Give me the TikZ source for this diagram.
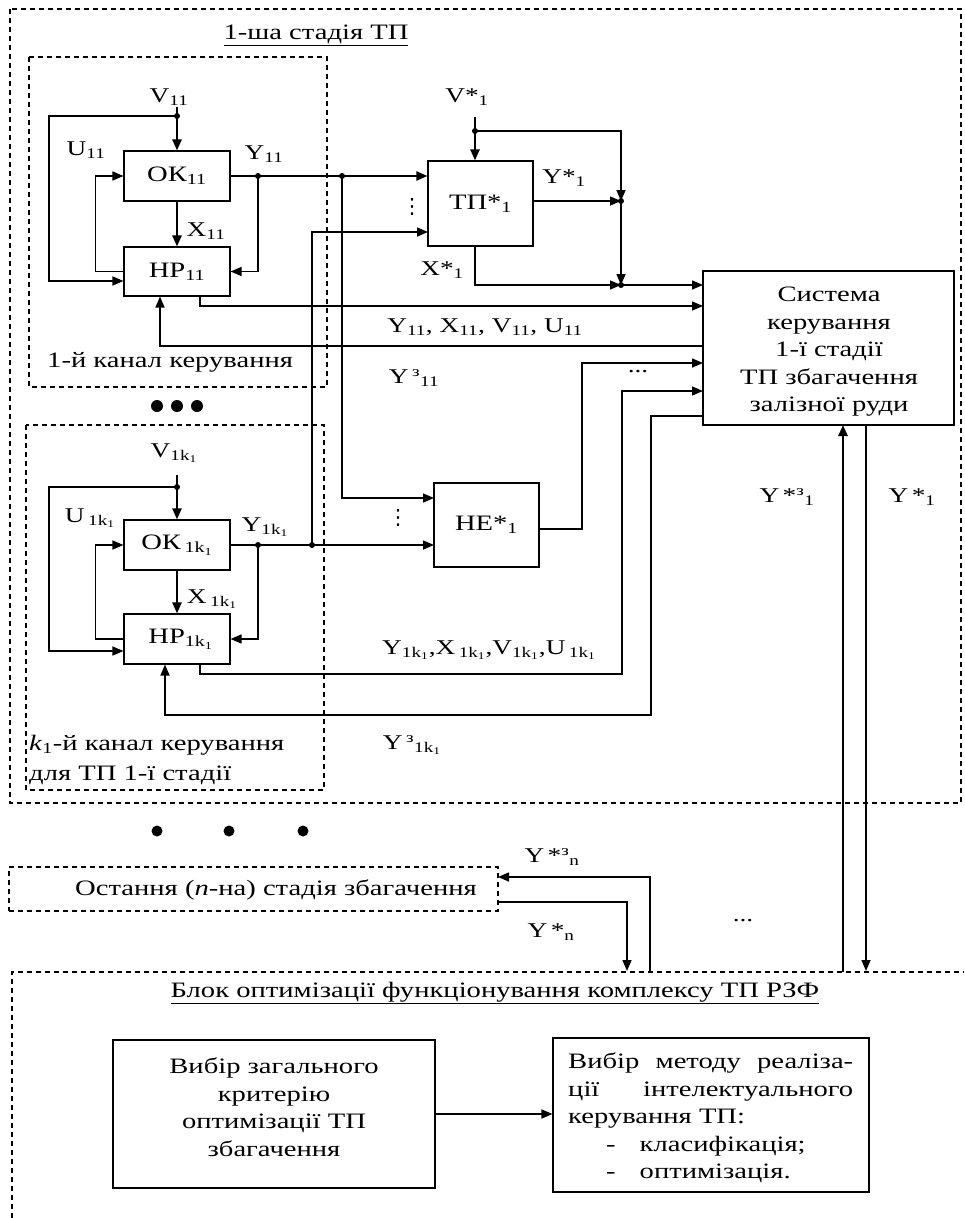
\documentclass[tikz,border=0pt]{standalone}
\usepackage{fontspec}
\setmainfont{Liberation Serif}[FakeStretch=1.3]
\newfontfamily\djv{DejaVu Sans}
\usetikzlibrary{arrows.meta,calc}
\newcommand{\sbt}[1]{\textsubscript{#1}}
\newcommand{\spt}[1]{\textsuperscript{#1}}
\newcommand{\kk}{\textsubscript{1k\textsubscript{1}}}
\begin{document}
\begin{tikzpicture}[x=1pt,y=-1pt,font=\fontsize{22}{27.5}\selectfont,
  ln/.style={line width=1.5pt},
  bold/.style={line width=2.4pt},
  arr/.style={-{Triangle[length=11pt,width=9pt]}},
  blk/.style={draw,line width=1.1pt,inner sep=0pt,align=center},
  dsh/.style={line width=1.1pt,dash pattern=on 5pt off 4pt},
  lbl/.style={inner sep=0pt,font=\fontsize{21}{24}\selectfont},
  vd/.style={inner sep=0pt,font=\djv\fontsize{21}{21}\selectfont}]
\useasboundingbox (0,0) rectangle (964,1218);

% dashed frames
\draw[dsh] (10,9) rectangle (961,803);
\draw[dsh] (29,57) rectangle (327,387);
\draw[dsh] (26,425) rectangle (324,790);
\draw[dsh] (12,1218) -- (12,972) -- (964,972);
\node[draw,dsh,minimum width=489pt,minimum height=44pt,inner sep=0pt] (last) at (253.5,889) {};
\node[inner sep=0pt] (lastt) at (276,890) {Остання (\textit{n}-на) стадія збагачення};

% titles
\node[inner sep=0pt] (t1) at (316,35) {\underline{1-ша стадія ТП}};
\node[inner sep=0pt] (t2) at (495,993) {\underline{Блок оптимізації функціонування комплексу ТП РЗФ}};
\node[inner sep=0pt,anchor=west] (c1) at (47,362) {1-й канал керування};
\node[inner sep=0pt,anchor=west,align=left,font=\fontsize{22}{30}\selectfont] (c2) at (29,760) {\textit{k}\sbt{1}-й канал керування\\для ТП 1-ї стадії};

% blocks
\node[blk,minimum width=106pt,minimum height=50pt] (ok1) at (177,176) {ОК\sbt{11}};
\node[blk,minimum width=106pt,minimum height=49pt] (hp1) at (177,271.5) {НР\sbt{11}};
\node[blk,minimum width=106pt,minimum height=50pt] (ok2) at (177,545) {ОК\,\kk};
\node[blk,minimum width=106pt,minimum height=50pt] (hp2) at (177,639) {\,\,НР\kk};
\node[blk,minimum width=105pt,minimum height=85pt] (tp) at (480.5,203.5) {ТП*\sbt{1}};
\node[blk,minimum width=105pt,minimum height=84pt] (he) at (486.5,525) {НЕ*\sbt{1}};
\node[blk,minimum width=251pt,minimum height=154pt] (sys) at (828.5,348) {};
\node[inner sep=0pt,align=center] (syst) at (829,352) {Система\\керування\\1-ї стадії\\ТП збагачення\\залізної руди};
\node[blk,minimum width=322pt,minimum height=148pt] (crit) at (274,1114) {};
\node[inner sep=0pt,align=center] (critt) at (274,1107) {Вибір загального\\критерію\\оптимізації ТП\\збагачення};
\node[blk,minimum width=316pt,minimum height=154pt] (meth) at (711,1115) {};
\node[inner sep=0pt,align=left,anchor=west] (metht) at (568,1118) {\makebox[285pt][s]{Вибір методу реаліза-}\\\makebox[285pt][s]{ції інтелектуального}\\керування ТП:\\\hspace*{38pt}-\hspace*{24pt}класифікація;\\\hspace*{38pt}-\hspace*{24pt}оптимізація.};

% coordinates
\coordinate (sA) at (703,285);
\coordinate (sB) at (703,306);
\coordinate (sC) at (703,346);
\coordinate (sD) at (703,363);
\coordinate (sE) at (703,391);
\coordinate (sF) at (703,416);
\coordinate (v1s) at (177,107);
\coordinate (jv1) at (177,116);
\coordinate (l1a) at (49,116);
\coordinate (jy1) at (258,176);
\coordinate (jy1b) at (342,176);
\coordinate (hp1o) at ($(hp1.south)+(23,0)$);
\coordinate (hp1f) at ($(hp1.south)+(-17,0)$);
\coordinate (v2s) at (177,475);
\coordinate (jv2) at (177,487);
\coordinate (l2a) at (49,487);
\coordinate (jy2) at (258,545);
\coordinate (jy2b) at (312,545);
\coordinate (hp2o) at ($(hp2.south)+(23,0)$);
\coordinate (hp2f) at ($(hp2.south)+(-12,0)$);
\coordinate (b2) at (622,674);
\coordinate (b3) at (651,715);
\coordinate (vs) at (475,117);
\coordinate (jvs) at (475,131);
\coordinate (jys) at (621,201);
\coordinate (jxs) at (621,285);
\coordinate (tp2) at (428,232);
\coordinate (he1) at (434,498);
\coordinate (he2) at (434,545);
\coordinate (heo) at (539,529);
\coordinate (b4) at (582,363);
\coordinate (sys3) at (843,425);
\coordinate (sys4) at (866,425);
\coordinate (bb3) at (843,972);
\coordinate (bb4) at (866,971);
\coordinate (bn1) at (650,972);
\coordinate (bn2) at (627,971);
\coordinate (le1) at (498,877);
\coordinate (le2) at (498,902);

% channel 1
\draw[bold,arr] (v1s) -- (ok1.north);
\draw[ln,arr] (jv1) -- (l1a) |- ($(hp1.west)+(0,9.5)$);
\draw[ln,arr] (hp1.west) -- ++(-28,0) |- (ok1.west);
\draw[bold] (ok1.east) -- (jy1b);
\draw[bold,arr] (jy1b) -- (tp.west |- jy1b);
\draw[ln,arr] (jy1) |- (hp1.east);
\draw[bold,arr] (ok1.south) -- (hp1.north);
\draw[ln,arr] (hp1o) |- (sB);
\draw[ln,arr] (sC) -| (hp1f);
\draw[ln,arr] (jy1b) |- (he1);

% channel k1
\draw[bold,arr] (v2s) -- (ok2.north);
\draw[ln,arr] (jv2) -- (l2a) |- ($(hp2.west)+(0,12)$);
\draw[ln,arr] (hp2.west) -- ++(-28,0) |- (ok2.west);
\draw[ln,arr] (ok2.east) -- (he2);
\draw[ln,arr] (jy2) |- (hp2.east);
\draw[bold,arr] (ok2.south) -- (hp2.north);
\draw[ln,arr] (jy2b) |- (tp2);
\draw[ln,arr] (hp2o) |- (b2) |- (sE);
\draw[ln,arr] (sF) -| (b3) -| (hp2f);

% TP*
\draw[bold,arr] (vs) -- (vs |- tp.north);
\draw[ln,arr] (jvs) -| (jys);
\draw[ln,arr] (tp.east |- jys) -- (jys);
\draw[ln,arr] (jys) -- (jxs);
\draw[ln,arr] (vs |- tp.south) |- (jxs);
\draw[ln,arr] (jxs) -- (sA);

% HE*
\draw[ln,arr] (heo) -| (b4) -- (sD);

% system links
\draw[bold,arr] (bb3) -- (sys3);
\draw[ln,arr] (sys4) -- (bb4);
\draw[ln,arr] (bn1) |- (le1);
\draw[ln,arr] (le2) -| (bn2);
\draw[ln,arr] (crit.east) -- (meth.west |- crit.east);

% junction dots
\foreach \p in {jv1,jy1,jy1b,jv2,jy2,jy2b,jvs,jys,jxs}
  \fill (\p) circle (3pt);

% bullets
\fill (157,406) circle (6pt);
\fill (177,406) circle (6pt);
\fill (197,406) circle (6pt);
\fill (157,831) circle (5.5pt);
\fill (229,831) circle (5.5pt);
\fill (303,831) circle (5.5pt);

% labels
\node[lbl] (lv1) at (169,97) {V\sbt{11}};
\node[lbl] (lu1) at (86,150) {U\sbt{11}};
\node[lbl] (ly1) at (264,154) {Y\sbt{11}};
\node[lbl] (lx1) at (206,231) {X\sbt{11}};
\node[lbl] (lv2) at (174,453) {V\kk};
\node[lbl] (lu2) at (90,518) {U\,\kk};
\node[lbl] (ly2) at (265,527) {Y\kk};
\node[lbl] (lx2) at (212,599) {X\,\kk};
\node[lbl] (lvs) at (467,97) {V*\sbt{1}};
\node[lbl] (lys) at (564,178) {Y*\sbt{1}};
\node[lbl] (lxs) at (442,270) {X*\sbt{1}};
\node[vd] (d1) at (412,207) {⋮};
\node[vd] (d2) at (398,518) {⋮};
\node[lbl] (ld1) at (485,327) {Y\sbt{11}, X\sbt{11}, V\sbt{11}, U\sbt{11}};
\node[lbl] (lf1) at (414,378) {Y\,\spt{з}\sbt{11}};
\node[lbl] (ldt) at (638,372) {...};
\node[lbl] (ld2) at (489,650) {Y\kk,X\,\kk,V\kk,U\,\kk};
\node[lbl] (lf2) at (412,745) {Y\,\spt{з}\kk};
\node[lbl] (lys3) at (787,497) {Y\,*\spt{з}\sbt{1}};
\node[lbl] (lys1) at (912,497) {Y\,*\sbt{1}};
\node[lbl] (lyn3) at (552,857) {Y\,*\spt{з}\sbt{n}};
\node[lbl] (lyn1) at (551,932) {Y\,*\sbt{n}};
\node[lbl] (ldt2) at (743,921) {...};
\end{tikzpicture}
\end{document}
